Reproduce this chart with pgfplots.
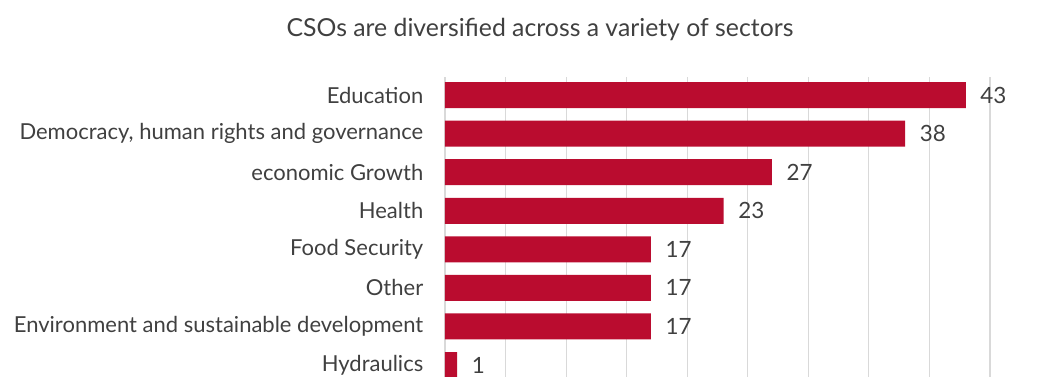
\documentclass[border=0pt]{standalone}
\usepackage{pgfplots}
\pgfplotsset{compat=1.18}
\usepackage{fontspec}
\setmainfont{Lato}
\definecolor{barred}{HTML}{BA0C2F}
\definecolor{txt}{HTML}{404040}
\definecolor{gridc}{HTML}{D9D9D9}
\begin{document}
\begin{tikzpicture}
\useasboundingbox (-333.75pt,0pt) rectangle (446.25pt,282.75pt);
\node[text=txt, font=\fontsize{18.6}{21}\selectfont] at (71.25pt,260.25pt) {CSOs are diversified across a variety of sectors};
\begin{axis}[
  at={(0,0)}, anchor=south west,
  scale only axis, width=408.75pt, height=225pt,
  xbar, bar width=19.5pt,
  xmin=0, xmax=45, ymin=-0.31, ymax=7.47,
  xtick={0,5,...,45}, xticklabels={},
  xmajorgrids, grid style={draw=gridc, line width=0.8pt},
  axis line style={draw=none}, tick style={draw=none},
  ytick={0,...,7},
  yticklabels={Hydraulics, Environment and sustainable development, Other, Food Security, Health, economic Growth, {Democracy, human rights and governance}, Education},
  yticklabel style={text=txt, font=\fontsize{16.5}{19}\selectfont, xshift=-8.5pt},
  /pgf/number format/assume math mode=true,
  nodes near coords,
  nodes near coords style={text=txt, font=\fontsize{16.8}{19}\selectfont, anchor=west, xshift=7.5pt},
  clip=false,
]
\addplot[fill=barred, draw=none] coordinates {(1,0) (17,1) (17,2) (17,3) (23,4) (27,5) (38,6) (43,7)};
\end{axis}
\end{tikzpicture}
\end{document}
